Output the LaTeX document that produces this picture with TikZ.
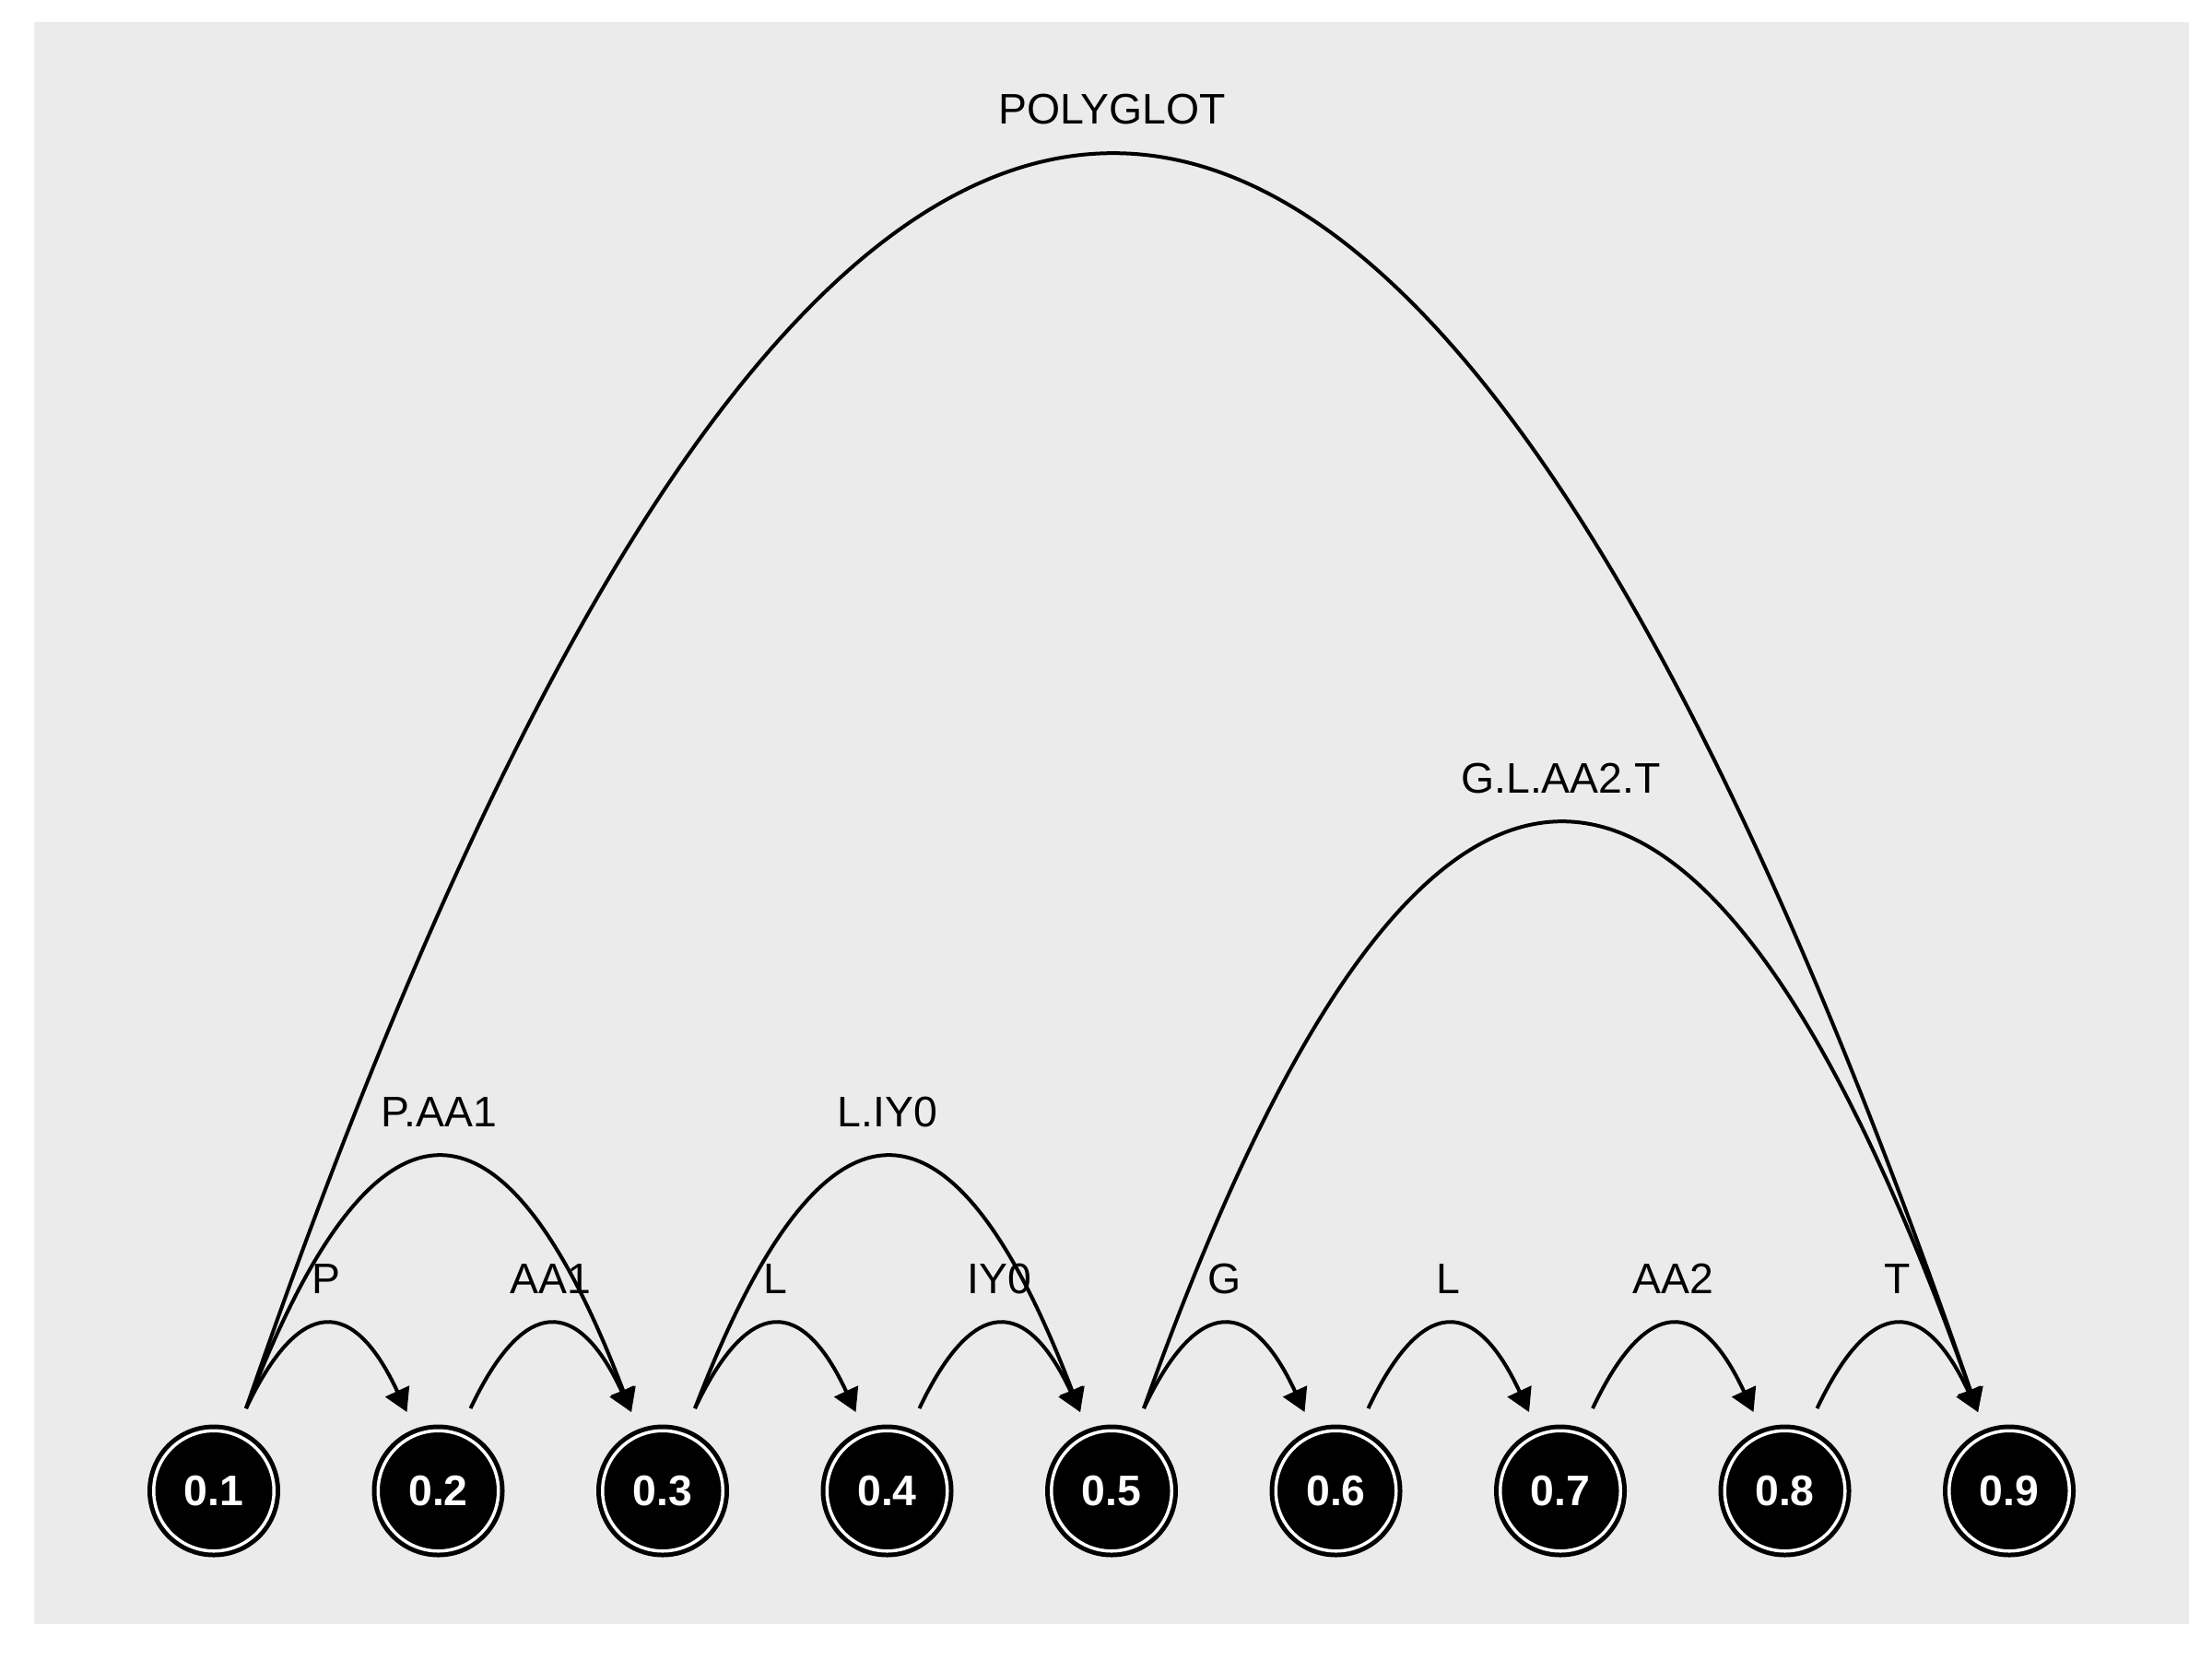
\documentclass[tikz,border=0pt]{standalone}
\usepackage{fontspec}
\setmainfont{Liberation Sans}
\usetikzlibrary{arrows.meta, calc, positioning}
\definecolor{panelgray}{HTML}{EBEBEB}
\tikzset{
    phone/.style={circle, fill=black, draw=black, double=white, double distance=0.035cm, line width=0.05cm,
        minimum size=1.305cm, inner sep=0pt, text=white, font=\fontsize{13.2}{15}\selectfont\bfseries},
    arcedge/.style={line width=0.04cm, -{Triangle[length=0.25cm, width=0.28cm]}},
    arclabel/.style={anchor=base, yshift=0.34cm, font=\fontsize{13.2}{15}\selectfont}
}

\begin{document}
\begin{tikzpicture}
    \useasboundingbox (0,0) rectangle (24,18);
    \fill[panelgray] (0.37,0.38) rectangle (23.75,17.76);

    % phone positions
    \foreach \i in {1,...,9}
        \node[phone] (n\i) at ({2.32+2.435*(\i-1)},1.825) {0.\i};

    % arcs: from / to / label / top of arc
    \foreach \a/\b/\lab/\t in {1/2/P/3.63, 2/3/AA1/3.63, 3/4/L/3.63, 4/5/IY0/3.63,
                               5/6/G/3.63, 6/7/L/3.63, 7/8/AA2/3.63, 8/9/T/3.63,
                               1/3/P.AA1/5.44, 3/5/L.IY0/5.44, 5/9/G.L.AA2.T/9.06, 1/9/POLYGLOT/16.31} {
        \path ($(n\a)+(0.35,0.895)$) coordinate (s)
              ($(n\b)+(-0.34,0.855)$) coordinate (e)
              ($(s)!0.5!(e)$) coordinate (m);
        \coordinate (pk) at (m |- 0,\t);
        \coordinate (q) at ($(m)!2!(pk)$);
        \draw[arcedge] (s) .. controls ($(s)!2/3!(q)$) and ($(e)!2/3!(q)$) .. (e);
        \node[arclabel] (lab\a\b) at (pk) {\lab};
    }
\end{tikzpicture}
\end{document}
